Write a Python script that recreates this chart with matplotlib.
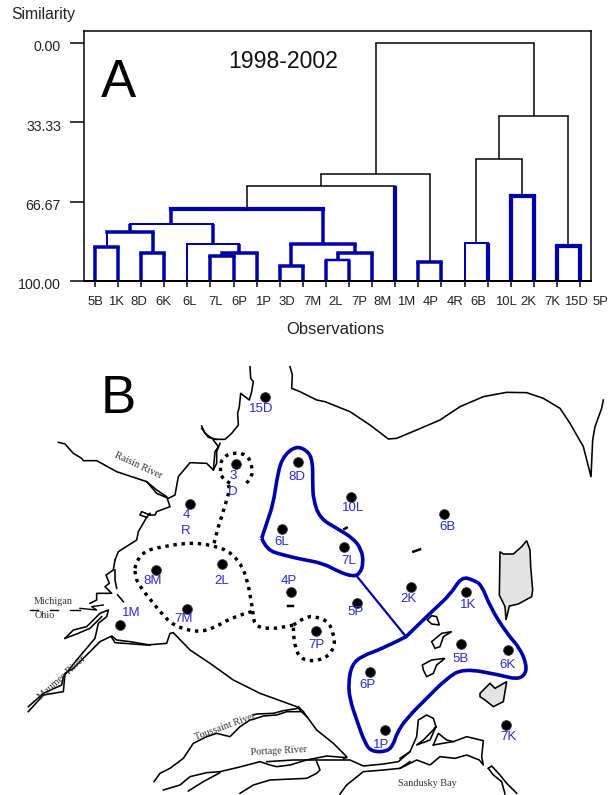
from matplotlib import pyplot as plt
from matplotlib.patches import PathPatch
from matplotlib.path import Path
from matplotlib.transforms import ScaledTranslation

plt.rcParams["font.family"] = ["Liberation Sans", "DejaVu Sans"]

BLUE = "#0000aa"
LABEL_BLUE = "#2a2ae0"

# --- panel A data ---
leaves = ["5B", "1K", "8D", "6K", "6L", "7L", "6P", "1P", "3D", "7M", "2L", "7P",
          "8M", "1M", "4P", "4R", "6B", "10L", "2K", "7K", "15D", "5P"]
# merges: node ids go on from len(leaves)
merge_left = [0, 2, 22, 5, 25, 4, 24, 8, 10, 30, 29, 28, 33, 14, 34, 16, 18, 20, 37, 40, 36]
merge_right = [1, 3, 23, 6, 7, 26, 27, 9, 11, 12, 31, 32, 13, 15, 35, 17, 19, 21, 38, 39, 41]
merge_sim = [85.9, 88.4, 79.6, 89.4, 88.1, 84.3, 76.1, 93.6, 91.2, 88.1, 84.3, 69.8,
             60.1, 92.0, 55.1, 84.1, 64.2, 85.3, 48.9, 30.7, 0.0]
# line widths in pixels, thin ones are black
top_w = [3.5, 3.5, 3.5, 3.5, 3.5, 2, 2, 3.5, 2.5, 3.5, 3.5, 4.2, 1.5, 3.5, 1.5, 2, 4.2, 4.2, 1.5, 1.5, 1.5]
left_w = [3.5, 3.5, 2, 3.5, 2.5, 2, 3.5, 3.5, 3.5, 3.5, 3.5, 3.5, 1.5, 3.5, 1.5, 2, 4.2, 4.2, 1.5, 1.5, 1.5]
right_w = [3.5, 3.5, 3.5, 3.5, 3.5, 3.5, 3.5, 3.5, 3.5, 3.5, 3.5, 3.5, 4.2, 3.5, 1.5, 4.2, 4.2, 4.2, 1.5, 1.5, 1.5]

sim_ticks = [0, 33.33, 66.67, 100]
sim_labels = ["0.00", "33.33", "66.67", "100.00"]
leaf_label_x = [95, 116, 139, 163, 190, 216, 239, 263, 287, 312, 336, 359, 383, 406,
                431, 455, 478, 506, 528, 552, 576, 600]

# --- panel B data, pixel positions on the page ---
station_x = [265, 236, 298, 190, 282, 156, 222, 291, 187, 120, 351, 444, 344, 411, 357,
             466, 316, 461, 508, 370, 385, 506]
station_y = [397, 464, 462, 504, 529, 570, 564, 592, 609, 625, 497, 514, 547, 587, 603,
             592, 631, 644, 650, 672, 730, 725]
station_names = ["15D", "3\nD", "8D", "4\nR", "6L", "8M", "2L", "4P", "7M", "1M", "10L", "6B",
                 "7L", "2K", "5P", "1K", "7P", "5B", "6K", "6P", "1P", "7K"]
name_x = [261, 233, 297, 186, 282, 153, 222, 289, 184, 131, 353, 447, 349, 408, 356,
          468, 316, 461, 508, 368, 381, 508]
name_y = [409, 484, 477, 523, 542, 581, 581, 581, 619, 613, 508, 527, 561, 599, 612,
          605, 645, 659, 665, 685, 745, 737]


def crop(x0, y0, pts):
    return [x0 + p[0] / 3 for p in pts], [y0 + p[1] / 3 for p in pts]


coast_lines = [
    crop(0, 350, [(750, 50), (752, 85), (760, 95), (755, 125), (748, 150), (722, 130), (718, 170),
                  (713, 190), (715, 225), (695, 250), (675, 268), (640, 268), (615, 250), (605, 228)]),
    crop(0, 350, [(605, 235), (625, 262), (650, 268)]),
    crop(0, 350, [(640, 270), (655, 290), (645, 305), (640, 360)]),
    crop(50, 430, [(25, 37), (45, 42), (70, 70), (95, 85), (100, 92), (140, 92), (200, 125), (290, 155),
                   (320, 190), (355, 205), (375, 195), (385, 140), (420, 98), (470, 100), (490, 120),
                   (500, 100), (500, 65), (510, 40)]),
    crop(50, 430, [(290, 155), (320, 180), (350, 200), (360, 230), (320, 245), (315, 255), (300, 255),
                   (275, 245), (270, 255), (290, 262), (300, 250)]),
    crop(50, 430, [(290, 262), (265, 305), (260, 330), (205, 365), (195, 390)]),
    crop(20, 560, [(285, 0), (280, 30), (258, 45), (268, 70), (255, 80), (275, 100), (230, 100), (230, 120), (210, 130)]),
    crop(20, 560, [(285, 30), (285, 60), (290, 85)]),
    crop(20, 560, [(293, 105), (310, 125)]),
    crop(20, 560, [(135, 235), (160, 210), (200, 200), (240, 160), (265, 150), (260, 170), (235, 190),
                   (225, 235), (170, 300), (130, 350), (125, 375), (70, 400), (25, 440)]),
    crop(20, 560, [(135, 235), (170, 222), (210, 205), (245, 170)]),
    crop(20, 560, [(25, 455), (70, 405), (130, 395), (135, 340), (160, 325), (240, 245), (275, 228),
                   (290, 240), (330, 245), (390, 255)]),
    crop(0, 350, [(335, 862), (345, 878), (440, 885), (500, 880), (510, 850), (520, 848), (570, 900),
                  (630, 940), (700, 990), (780, 1030), (890, 1070), (920, 1100)]),
    crop(150, 690, [(445, 55), (400, 62), (370, 70), (320, 72), (310, 75)]),
    crop(150, 690, [(460, 65), (410, 65), (380, 75), (340, 78), (310, 88), (300, 90), (270, 110), (240, 140),
                    (200, 130), (170, 140), (130, 160), (100, 205), (60, 235), (30, 250), (12, 275)]),
    crop(150, 690, [(445, 50), (460, 65), (500, 120), (550, 160), (590, 200), (580, 207)]),
    crop(150, 690, [(40, 300), (90, 285), (120, 260), (170, 248), (210, 245), (265, 232), (330, 215), (360, 225),
                    (380, 230), (420, 225), (470, 210), (530, 198), (590, 203)]),
    crop(150, 690, [(350, 215), (430, 210), (490, 210), (600, 210), (640, 228), (700, 222), (745, 215), (780, 185)]),
    crop(150, 690, [(115, 303), (160, 275), (210, 248)]),
    crop(150, 690, [(270, 310), (310, 285), (360, 270), (470, 265), (500, 250), (510, 240), (500, 215)]),
    crop(150, 690, [(570, 312), (590, 285), (640, 245), (700, 240), (750, 235), (780, 215)]),
    crop(400, 690, [(0, 205), (30, 185), (50, 140), (55, 90), (80, 75), (100, 85), (108, 110), (90, 130),
                    (70, 150), (50, 165), (90, 150), (108, 110)]),
    crop(400, 690, [(100, 165), (115, 130), (140, 150), (160, 155), (200, 140), (250, 152), (245, 200),
                    (250, 225), (238, 210), (200, 195), (165, 205), (120, 200), (90, 225), (50, 210), (0, 235)]),
    crop(400, 690, [(100, 165), (140, 158), (160, 155)]),
    crop(400, 690, [(265, 235), (275, 228), (300, 255), (320, 280), (350, 310)]),
    crop(400, 690, [(265, 235), (280, 255), (305, 275), (315, 312)]),
    crop(0, 350, [(870, 50), (877, 75), (875, 115), (900, 125), (950, 150), (975, 155), (1050, 185),
                  (1110, 225), (1165, 267), (1190, 265), (1250, 240), (1320, 210), (1380, 170), (1450, 140),
                  (1520, 127), (1580, 128), (1630, 145), (1680, 175), (1710, 220), (1750, 290), (1773, 380),
                  (1778, 270), (1785, 230), (1805, 175), (1810, 150)]),
]
border_dashes = [
    crop(20, 560, [(30, 150), (55, 150)]),
    crop(20, 560, [(90, 150), (115, 150)]),
    crop(20, 560, [(150, 150), (180, 150)]),
    crop(20, 560, [(180, 145), (230, 150), (215, 140), (250, 135)]),
]
islands_grey = [
    crop(300, 350, [(600, 605), (610, 612), (640, 612), (665, 590), (680, 572), (690, 600), (692, 650), (698, 720),
                    (695, 740), (655, 762), (628, 768), (618, 810), (615, 770), (598, 735)]),
    crop(300, 350, [(540, 1030), (570, 1000), (585, 1015), (620, 995), (610, 1055), (580, 1070), (555, 1050), (540, 1040)]),
]
islands_white = [
    crop(300, 350, [(382, 810), (395, 797), (410, 800), (418, 825), (395, 822)]),
    crop(300, 350, [(395, 875), (425, 850), (455, 845), (430, 860), (420, 890), (405, 895)]),
    crop(300, 350, [(367, 945), (395, 930), (435, 925), (410, 945), (400, 970), (380, 980), (370, 960)]),
]
specks = [
    crop(300, 350, [(133, 537), (140, 533)]),
    crop(300, 350, [(340, 605), (360, 598)]),
    crop(0, 350, [(863, 769), (878, 769)]),
]
blue_outlines = [
    crop(300, 350, [(-115, 565), (-100, 520), (-80, 460), (-70, 390), (-55, 325), (-15, 288), (20, 300), (38, 330),
                    (38, 400), (40, 450), (60, 505), (110, 535), (160, 565), (185, 600), (190, 640), (180, 670),
                    (160, 680), (115, 665), (70, 640), (0, 627), (-50, 615), (-100, 600), (-115, 565)]),
    crop(300, 350, [(318, 860), (400, 780), (450, 735), (485, 680), (520, 690), (545, 705), (570, 770), (620, 850),
                    (660, 895), (680, 945), (675, 975), (650, 988), (600, 975), (490, 955), (440, 985), (380, 1045),
                    (320, 1105), (290, 1150), (280, 1185), (260, 1205), (215, 1205), (195, 1180), (170, 1110),
                    (150, 1050), (145, 1000), (155, 945), (185, 918), (250, 895), (318, 860)]),
]
blue_link = crop(300, 350, [(170, 678), (318, 860)])
dotted_lines = [
    crop(0, 350, [(690, 400), (665, 385), (660, 360), (665, 325), (695, 308), (740, 312), (758, 350), (755, 385), (730, 410)]),
    crop(0, 350, [(685, 405), (690, 415), (680, 450), (665, 500), (650, 545), (640, 590)]),
    crop(0, 350, [(405, 655), (410, 630), (440, 600), (490, 590), (550, 580), (600, 580), (640, 588), (680, 600),
                  (715, 630), (740, 680), (755, 760), (760, 800), (765, 825), (790, 835), (840, 835), (880, 825)]),
    crop(0, 350, [(755, 785), (700, 800), (640, 835), (600, 845), (560, 840), (510, 820), (460, 760), (420, 710),
                  (405, 680), (405, 655)]),
    crop(0, 350, [(880, 825), (915, 800), (950, 800), (985, 815), (1000, 850), (1005, 885), (985, 920), (940, 935),
                  (900, 925), (885, 890), (880, 850), (880, 825)]),
]


def px(w):
    return w * 0.72


# rounds the corners of a traced outline with quadratic curves
def smooth_path(xs, ys):
    pts = list(zip(xs, ys))
    verts = [pts[0]]
    codes = [Path.MOVETO]
    for i in range(1, len(pts) - 1):
        if i == len(pts) - 2:
            end = pts[-1]
        else:
            end = ((pts[i][0] + pts[i + 1][0]) / 2, (pts[i][1] + pts[i + 1][1]) / 2)
        verts += [pts[i], end]
        codes += [Path.CURVE3, Path.CURVE3]
    return Path(verts, codes)


fig = plt.figure(figsize=(6.15, 7.95), dpi=100)

# whole page in pixels, for map and big letters
page = fig.add_axes([0, 0, 1, 1])
page.set_xlim(0, 615)
page.set_ylim(795, 0)
page.axis("off")
page.set_zorder(2)

# --- panel A ---
ax = fig.add_axes([84 / 615, 1 - 281 / 795, (591 - 84) / 615, (281 - 31.5) / 795])
ax.set_xlim(-0.476, 21.476)
ax.set_ylim(100, -4.7)


def leg_color(w):
    return BLUE if w > 1.6 else "black"


node_x = list(range(len(leaves)))
node_sim = [100.0] * len(leaves)
for i in range(len(merge_sim)):
    a, b, s = merge_left[i], merge_right[i], merge_sim[i]
    ax.plot([node_x[a], node_x[a]], [node_sim[a], s], color=leg_color(left_w[i]), lw=px(left_w[i]), solid_capstyle="butt")
    ax.plot([node_x[b], node_x[b]], [node_sim[b], s], color=leg_color(right_w[i]), lw=px(right_w[i]), solid_capstyle="butt")
    ax.plot([node_x[a], node_x[b]], [s, s], color=leg_color(top_w[i]), lw=px(top_w[i]), solid_capstyle="projecting")
    node_x.append((node_x[a] + node_x[b]) / 2)
    node_sim.append(s)

for side in ax.spines.values():
    side.set_linewidth(px(1.5))
ax.spines["bottom"].set_linewidth(px(2))
ax.set_yticks(sim_ticks, sim_labels, fontsize=10.2, color="#222222")
ax.set_xticks(range(len(leaves)), leaves, fontsize=9.4, color="#222222")
ax.tick_params(axis="y", length=px(14), width=px(1.5), pad=px(9))
ax.tick_params(axis="x", length=px(6), width=px(1.5), pad=px(9.5))
for lab in ax.get_yticklabels():
    lab.set_transform(lab.get_transform() + ScaledTranslation(0, -3 / 100, fig.dpi_scale_trans))
# the labels drift right of their ticks in the original
step = (580 - 95) / 21
for i, lab in enumerate(ax.get_xticklabels()):
    dx = (leaf_label_x[i] - (95 + i * step)) / 100
    lab.set_transform(lab.get_transform() + ScaledTranslation(dx, 0, fig.dpi_scale_trans))

page.text(43, 14, "Similarity", fontsize=11.3, ha="center", va="center", color="#222222")
page.text(335, 329, "Observations", fontsize=12, ha="center", va="center", color="#222222")
page.text(283, 62, "1998-2002", fontsize=16.6, ha="center", va="center", color="#111111")
page.text(118, 83, "A", fontsize=38, ha="center", va="center", color="black")
page.text(118, 399, "B", fontsize=38, ha="center", va="center", color="black")

# --- panel B ---
for xs, ys in coast_lines:
    page.plot(xs, ys, color="black", lw=px(1.6))
for xs, ys in border_dashes:
    page.plot(xs, ys, color="black", lw=px(1.4))
for xs, ys in islands_grey:
    page.fill(xs, ys, facecolor="#e3e3e3", edgecolor="black", lw=px(1.6))
for xs, ys in islands_white:
    page.fill(xs, ys, facecolor="white", edgecolor="black", lw=px(1.6))
for xs, ys in specks:
    page.plot(xs, ys, color="black", lw=px(2.5))

for xs, ys in blue_outlines:
    page.add_patch(PathPatch(smooth_path(xs, ys), facecolor="none", edgecolor=BLUE, lw=px(3.6)))
page.plot(blue_link[0], blue_link[1], color=BLUE, lw=px(2.2))
for xs, ys in dotted_lines:
    page.add_patch(PathPatch(smooth_path(xs, ys), facecolor="none", edgecolor="black", lw=px(3.4), linestyle=(0, (1, 1.4))))

page.scatter(station_x, station_y, s=50, color="black", edgecolors="#444444", linewidths=0.6, zorder=3)
for i in range(len(station_names)):
    page.text(name_x[i], name_y[i], station_names[i], fontsize=9.5, color=LABEL_BLUE, ha="center", va="center",
              linespacing=1.45, zorder=4)

serif = ["Liberation Serif", "DejaVu Serif"]
page.text(138, 466, "Raisin River", family=serif, fontsize=7.3, color="#333333", rotation=-25, ha="center", va="center")
page.text(53, 601, "Michigan", family=serif, fontsize=7.3, color="#333333", ha="center", va="center")
page.text(45, 616, "Ohio", family=serif, fontsize=7.3, color="#333333", ha="center", va="center")
page.text(62, 678, "Maumee River", family=serif, fontsize=7.3, color="#333333", rotation=42, ha="center", va="center")
page.text(225, 727, "Toussaint River", family=serif, fontsize=7.3, color="#333333", rotation=20, ha="center", va="center")
page.text(279, 751, "Portage River", family=serif, fontsize=7.3, color="#333333", rotation=3, ha="center", va="center")
page.text(427, 783, "Sandusky Bay", family=serif, fontsize=7.3, color="#333333", ha="center", va="center")

fig.savefig("out.png", dpi=100)
